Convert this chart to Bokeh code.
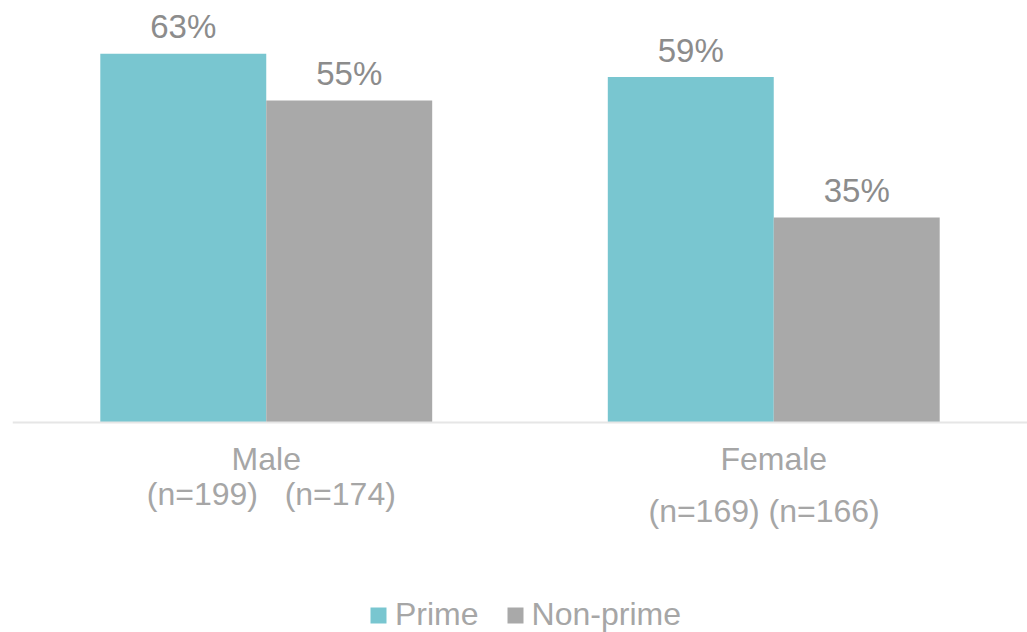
from bokeh.plotting import figure
from bokeh.models import ColumnDataSource, FactorRange, Range1d, Span, Legend, LegendItem
from bokeh.transform import dodge
from bokeh.core.properties import value
from bokeh.embed import file_html
from bokeh.resources import INLINE

# ---- data ----
categories = ["Male", "Female"]
series = ["Prime", "Non-prime"]
prime = [63, 59]
non_prime = [55, 35]
n_labels = ["(n=199)\u00a0\u00a0\u00a0(n=174)", "(n=169)\u00a0(n=166)"]

# ---- style ----
TEAL = "#79C6D0"
GRAY = "#A9A9A9"
LABEL_COLOR = "#8C8C8C"
CAT_COLOR = "#A6A6A6"
FONT = "Liberation Sans"
FS = "32px"
FS_LBL = "33px"
PX = 5.855  # pixels per percentage point
BAR_W = 0.327
OFF = BAR_W / 2
ADJ = 11  # baseline correction (px)

W, H = 1027, 632
p = figure(width=W, height=H, output_backend="svg", toolbar_location=None,
           x_range=FactorRange(*categories, range_padding=0),
           y_range=Range1d(-210 / PX, 422 / PX),
           min_border_left=12, min_border_right=0, min_border_top=0, min_border_bottom=0)
p.xaxis.visible = False
p.yaxis.visible = False
p.xgrid.visible = False
p.ygrid.visible = False
p.outline_line_color = None
p.background_fill_color = "white"
p.border_fill_color = "white"

src = ColumnDataSource(dict(
    cat=categories, prime=prime, non_prime=non_prime,
    prime_lbl=[f"{v}%" for v in prime], non_lbl=[f"{v}%" for v in non_prime],
    prime_ly=[v + (16 + ADJ) / PX for v in prime], non_ly=[v + (16 + ADJ) / PX for v in non_prime],
))

r1 = p.vbar(x=dodge("cat", -OFF, range=p.x_range), top="prime", bottom=0, width=BAR_W,
            source=src, fill_color=TEAL, line_color=None)
r2 = p.vbar(x=dodge("cat", OFF, range=p.x_range), top="non_prime", bottom=0, width=BAR_W,
            source=src, fill_color=GRAY, line_color=None)

p.add_layout(Span(location=0, dimension="width", line_color="#E6E6E6", line_width=2))

p.text(x=dodge("cat", -OFF, range=p.x_range), y="prime_ly", text="prime_lbl", source=src,
       text_font=value(FONT), text_font_size=FS_LBL, text_color=LABEL_COLOR,
       text_align="center", text_baseline="alphabetic")
p.text(x=dodge("cat", OFF, range=p.x_range), y="non_ly", text="non_lbl", source=src,
       text_font=value(FONT), text_font_size=FS_LBL, text_color=LABEL_COLOR,
       text_align="center", text_baseline="alphabetic")

# category labels
cat_src = ColumnDataSource(dict(cat=categories, y=[-(47 - ADJ) / PX, -(47 - ADJ) / PX]))
p.text(x="cat", y="y", text="cat", source=cat_src,
       text_font=value(FONT), text_font_size=FS, text_color=CAT_COLOR,
       text_align="center", text_baseline="alphabetic")

p.text(x=dodge("x", 0.01, range=p.x_range), y="y", text="t",
       source=ColumnDataSource(dict(x=[categories[0]], y=[-(82 - ADJ) / PX], t=[n_labels[0]])),
       text_font=value(FONT), text_font_size=FS, text_color=CAT_COLOR,
       text_align="center", text_baseline="alphabetic")
p.text(x=dodge("x", -0.019, range=p.x_range), y="y", text="t",
       source=ColumnDataSource(dict(x=[categories[1]], y=[-(99 - ADJ) / PX], t=[n_labels[1]])),
       text_font=value(FONT), text_font_size=FS, text_color=CAT_COLOR,
       text_align="center", text_baseline="alphabetic")

legend = Legend(items=[LegendItem(label=series[0], renderers=[r1]),
                       LegendItem(label=series[1], renderers=[r2])],
                location=(356, -1), orientation="horizontal",
                glyph_width=20, glyph_height=20, label_standoff=7, spacing=26,
                padding=0, margin=0, border_line_color=None, background_fill_alpha=0,
                label_text_font=FONT, label_text_font_size=FS, label_text_color=CAT_COLOR,
                label_height=20)
p.add_layout(legend)

open("out.html", "w").write(file_html(p, INLINE))
